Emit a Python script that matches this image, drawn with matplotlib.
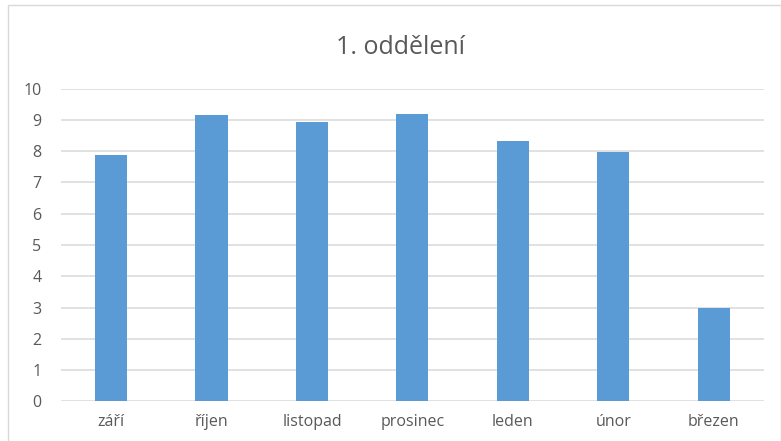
import matplotlib.pyplot as plt
from matplotlib.patches import Rectangle

months = ["září", "říjen", "listopad", "prosinec", "leden", "únor", "březen"]
values = [7.87, 9.15, 8.93, 9.2, 8.34, 7.98, 3.0]
yticks = [0, 1, 2, 3, 4, 5, 6, 7, 8, 9, 10]

plt.rcParams['font.family'] = ['Open Sans', 'DejaVu Sans']

fig = plt.figure(figsize=(7.81, 4.41), dpi=100)
ax = fig.add_axes([0.078, 0.0896, 0.9, 0.7094])

# light border around the chart area
fig.patches.append(Rectangle((0.0105, -0.01), 0.99, 0.998, transform=fig.transFigure,
                             fill=False, edgecolor="#d9d9d9", linewidth=1))

x = range(len(months))
ax.bar(x, values, width=0.32, color="#5b9bd5", zorder=3)

ax.set_xlim(-0.5, len(months) - 0.5)
ax.set_ylim(0, 10)
ax.set_yticks(yticks)
ax.set_xticks(list(x))
ax.set_xticklabels(months)
ax.yaxis.grid(True, color="#d9d9d9", linewidth=1.1, zorder=0)
ax.tick_params(axis="both", length=0, labelsize=11.5, labelcolor="#595959")
ax.tick_params(axis="y", pad=14)
ax.tick_params(axis="x", pad=9)
for s in ax.spines.values():
    s.set_visible(False)

fig.text(0.513, 0.893, "1. oddělení", ha="center", va="center",
         fontsize=18, color="#595959")

fig.savefig("out.png", dpi=100)
